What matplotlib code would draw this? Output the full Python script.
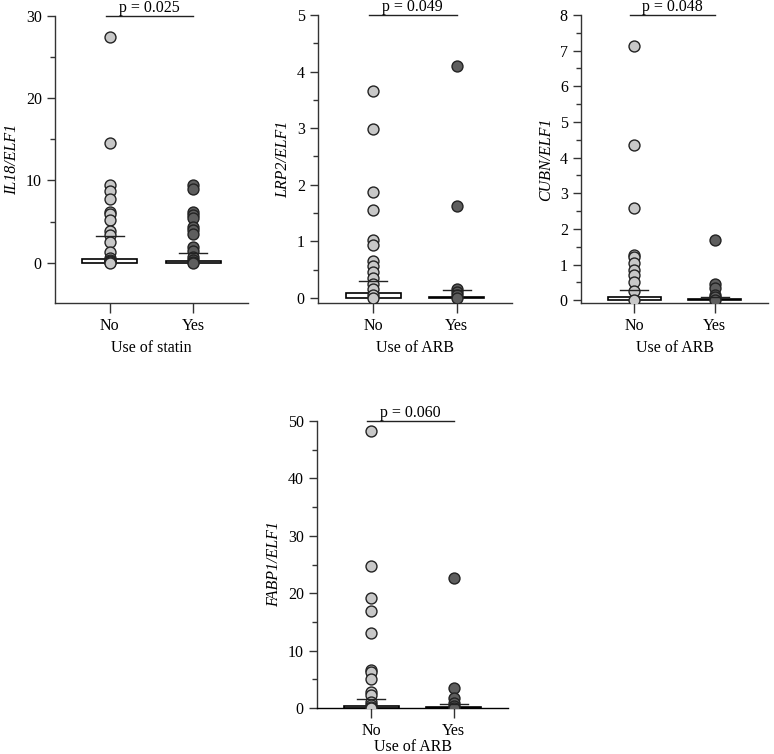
import matplotlib
matplotlib.use("Agg")
import matplotlib.pyplot as plt
from matplotlib.ticker import MultipleLocator

plt.rcParams['font.family'] = ['Liberation Serif', 'DejaVu Serif']

groups = ['No', 'Yes']

# panel 1: IL18/ELF1 by statin use
il18_no = [27.5, 14.5, 9.4, 8.7, 7.7, 6.2, 5.9, 5.2, 3.8, 3.4, 2.5, 1.3, 0.6, 0.3, 0.2, 0.1, 0.05, 0.0]
il18_yes = [9.4, 9.0, 6.2, 5.8, 5.4, 4.3, 4.0, 3.5, 1.9, 1.4, 0.7, 0.3, 0.1, 0.0]
il18_bar = [0.5, 0.15]
il18_mean = [3.2, 1.2]

# panel 2: LRP2/ELF1 by ARB use
lrp2_no = [3.66, 2.98, 1.88, 1.56, 1.03, 0.93, 0.65, 0.56, 0.45, 0.36, 0.25, 0.15, 0.05, 0.0]
lrp2_yes = [4.1, 1.62, 0.15, 0.1, 0.05, 0.0]
lrp2_bar = [0.09, 0.02]
lrp2_mean = [0.3, 0.14]

# panel 3: CUBN/ELF1 by ARB use
cubn_no = [7.13, 4.35, 2.58, 1.27, 1.2, 1.05, 0.85, 0.7, 0.5, 0.25, 0.0]
cubn_yes = [1.7, 0.45, 0.35, 0.15, 0.1, 0.0]
cubn_bar = [0.09, 0.03]
cubn_mean = [0.28, 0.1]

# panel 4: FABP1/ELF1 by ARB use
fabp1_no = [48.2, 24.8, 19.2, 16.9, 13.0, 6.6, 6.2, 5.0, 2.8, 2.2, 1.0, 0.5, 0.2, 0.0]
fabp1_yes = [22.6, 3.5, 1.8, 0.8, 0.3, 0.0]
fabp1_bar = [0.3, 0.15]
fabp1_mean = [1.6, 0.7]

W, H = 774, 754
FS = 11.5


def make_ax(fig, left, right, top, bottom):
    return fig.add_axes([left / W, 1 - bottom / H, (right - left) / W, (bottom - top) / H])


def draw_panel(ax, no, yes, bar, mean, ylab, xlab, ylim, major, minor, ptext, xpad=4):
    ax.bar([0, 1], bar, width=0.66, color='white', edgecolor='black', linewidth=1.2, zorder=2)
    ax.scatter([0] * len(no), no, s=62, c='#c8c8c8', edgecolors='#222222', linewidths=1.0, zorder=3)
    ax.scatter([1] * len(yes), yes, s=62, c='#5e5e5e', edgecolors='#222222', linewidths=1.0, zorder=3)
    for i, m in enumerate(mean):
        ax.plot([i - 0.17, i + 0.17], [m, m], color='#222222', lw=1.0, zorder=4)
    ax.set_xlim(-0.66, 1.66)
    ax.set_ylim(*ylim)
    ax.yaxis.set_major_locator(MultipleLocator(major))
    ax.yaxis.set_minor_locator(MultipleLocator(minor))
    ax.set_xticks([0, 1])
    ax.set_xticklabels(groups, fontsize=FS)
    ax.tick_params(axis='y', labelsize=FS, length=6, width=1, color='#333333')
    ax.tick_params(axis='y', which='minor', length=3.5, width=1, color='#333333')
    ax.tick_params(axis='x', length=7, width=1, color='#333333', pad=4)
    for s in ['top', 'right']:
        ax.spines[s].set_visible(False)
    for s in ['left', 'bottom']:
        ax.spines[s].set_color('#333333')
        ax.spines[s].set_linewidth(1.0)
    ax.set_ylabel(ylab, fontsize=FS, style='italic', labelpad=4)
    ax.set_xlabel(xlab, fontsize=FS, labelpad=xpad)
    top = ylim[1]
    ax.plot([-0.05, 1.0], [top, top], color='#222222', lw=1.0, clip_on=False)
    ax.text(0.47, top, ptext, ha='center', va='bottom', fontsize=FS)


fig = plt.figure(figsize=(W / 100, H / 100), dpi=100)

ax1 = make_ax(fig, 55, 248, 16, 303)
draw_panel(ax1, il18_no, il18_yes, il18_bar, il18_mean, 'IL18/ELF1', 'Use of statin',
           (-4.9, 30), 10, 5, 'p = 0.025')

ax2 = make_ax(fig, 318, 512, 15, 303)
draw_panel(ax2, lrp2_no, lrp2_yes, lrp2_bar, lrp2_mean, 'LRP2/ELF1', 'Use of ARB',
           (-0.09, 5), 1, 0.5, 'p = 0.049')

ax3 = make_ax(fig, 581, 768, 15, 303)
draw_panel(ax3, cubn_no, cubn_yes, cubn_bar, cubn_mean, 'CUBN/ELF1', 'Use of ARB',
           (-0.08, 8), 1, 0.5, 'p = 0.048')

ax4 = make_ax(fig, 317, 508, 421, 708)
draw_panel(ax4, fabp1_no, fabp1_yes, fabp1_bar, fabp1_mean, 'FABP1/ELF1', 'Use of ARB',
           (0, 50), 10, 5, 'p = 0.060', xpad=0)
ax4.spines['bottom'].set_color('black')

fig.savefig('out.png', dpi=100)
